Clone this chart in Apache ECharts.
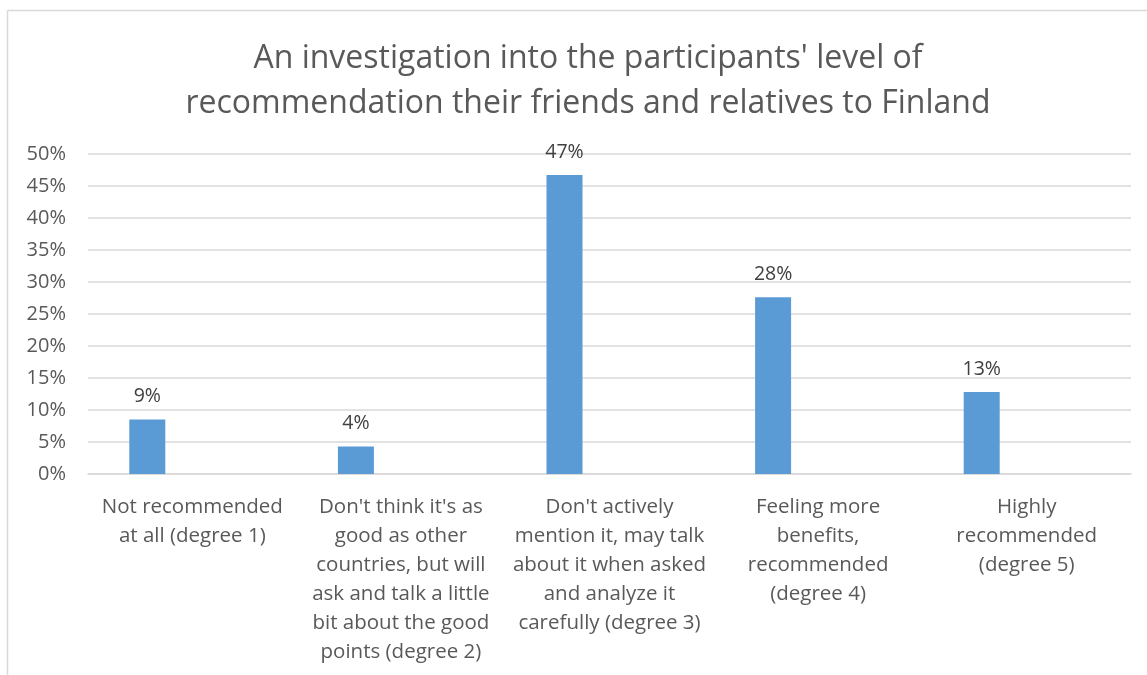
<!DOCTYPE html>
<html>
<head>
<meta charset="utf-8">
<script src="https://cdn.jsdelivr.net/npm/echarts@6/dist/echarts.min.js"></script>
<style>
  html, body { margin: 0; padding: 0; background: #fff; }
  #chart { width: 1147px; height: 675px; }
</style>
</head>
<body>
<div id="chart"></div>
<script>
const categories = [
  'Not recommended\nat all (degree 1)',
  "Don't think it's as\ngood as other\ncountries, but will\nask and talk a little\nbit about the good\npoints (degree 2)",
  "Don't actively\nmention it, may talk\nabout it when asked\nand analyze it\ncarefully (degree 3)",
  'Feeling more\nbenefits,\nrecommended\n(degree 4)',
  'Highly\nrecommended\n(degree 5)'
]
const shares = [8.5, 4.3, 46.7, 27.6, 12.8]
const emptySeries = [null, null, null, null, null]

const textColor = '#595959'
const gridColor = '#d9d9d9'
const font = 'Open Sans'

const chart = echarts.init(document.getElementById('chart'))
chart.setOption({
  animation: false,
  textStyle: { fontFamily: font },
  title: {
    text: "An investigation into the participants' level of\nrecommendation their friends and relatives to Finland",
    left: 583,
    top: 31,
    textAlign: 'center',
    textStyle: { fontFamily: font, fontWeight: 'normal', fontSize: 32, lineHeight: 45, color: textColor },
  },
  graphic: [
    { type: 'line', shape: { x1: 7.5, y1: 10.5, x2: 1147, y2: 10.5 }, style: { stroke: gridColor, lineWidth: 1.5 } },
    { type: 'line', shape: { x1: 7.5, y1: 10.5, x2: 7.5, y2: 675 }, style: { stroke: gridColor, lineWidth: 1.5 } },
  ],
  grid: { left: 88, right: 16, top: 154, bottom: 201, containLabel: false },
  xAxis: {
    type: 'category',
    data: categories,
    axisLine: { lineStyle: { color: gridColor, width: 1.5 } },
    axisTick: { show: false },
    axisLabel: { interval: 0, color: textColor, fontSize: 20.5, lineHeight: 29, margin: 19, fontFamily: font },
  },
  yAxis: {
    type: 'value',
    min: 0,
    max: 50,
    interval: 5,
    axisLine: { show: false },
    axisTick: { show: false },
    splitLine: { lineStyle: { color: gridColor, width: 1.5 } },
    axisLabel: { formatter: '{value}%', color: textColor, fontSize: 20, margin: 22, fontFamily: font },
  },
  series: [
    {
      type: 'bar',
      data: shares,
      barWidth: 36,
      barGap: '150%',
      itemStyle: { color: '#5b9bd5' },
      label: {
        show: true,
        position: 'top',
        distance: 13,
        color: '#404040',
        fontSize: 19.5,
        fontFamily: font,
        formatter: p => Math.round(p.value) + '%',
      },
    },
    {
      type: 'bar',
      data: emptySeries,
      barWidth: 36,
      itemStyle: { color: '#ed7d31' },
    },
  ],
})
</script>
</body>
</html>
